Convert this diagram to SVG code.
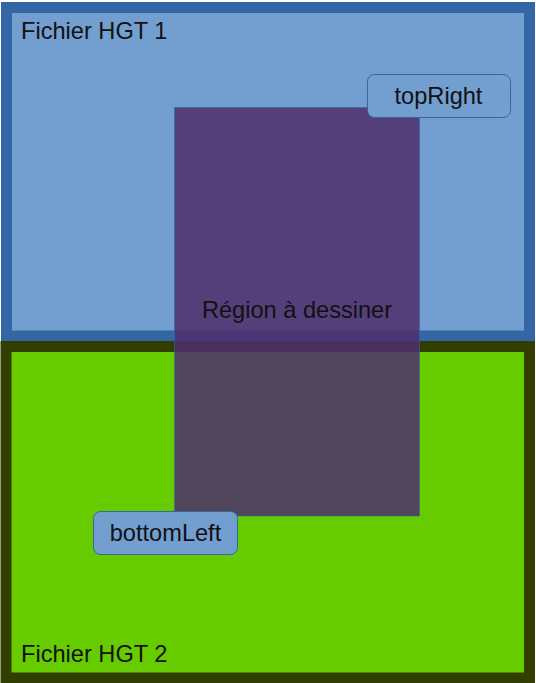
<svg xmlns="http://www.w3.org/2000/svg" width="536" height="683" viewBox="0 0 536 683">
<style>
text{font-family:"Liberation Sans",Arial,sans-serif;font-size:23.6px;fill:#111111}
.lbl{fill:#729fcf;stroke:#3465a4;stroke-width:1}
.mid{text-anchor:middle}
</style>
<rect width="536" height="683" fill="#ffffff"/>
<g id="hgt1">
<rect x="6.5" y="7.5" width="523" height="328.5" fill="#729fcf" stroke="#3465a4" stroke-width="11"/>
<text x="21" y="39">Fichier HGT 1</text>
</g>
<g id="hgt2">
<rect x="6" y="346.5" width="523.5" height="331.5" fill="#66cc00" stroke="#323d00" stroke-width="11"/>
<text x="21" y="662">Fichier HGT 2</text>
</g>
<g id="region">
<rect x="174.5" y="107.5" width="245" height="408.5" fill="#4f2e6c" fill-opacity="0.85" stroke="#3465a4" stroke-opacity="0.6" stroke-width="1"/>
<text class="mid" x="297" y="318">Région à dessiner</text>
</g>
<g id="topRight">
<rect class="lbl" x="367.5" y="74.5" width="143" height="43" rx="7"/>
<text class="mid" x="438.5" y="103.5">topRight</text>
</g>
<g id="bottomLeft">
<rect class="lbl" x="93.5" y="511.5" width="144" height="43" rx="7"/>
<text class="mid" x="165.5" y="540.5">bottomLeft</text>
</g>
<g id="connectors"></g>
</svg>
